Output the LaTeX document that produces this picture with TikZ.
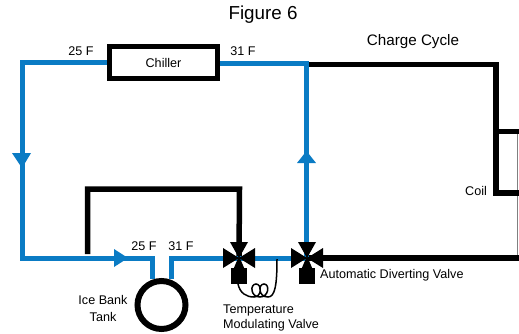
\documentclass[tikz,border=0pt]{standalone}
\usepackage{fontspec}
\setmainfont{Liberation Sans}
\usetikzlibrary{arrows.meta, positioning, shapes.geometric}

\tikzset{
  bluepipe/.style={line width=5pt, draw=pipeblue},
  blackpipe/.style={line width=5.5pt, draw=black},
  flowtip/.style={fill=pipeblue, draw=none},
  valvetip/.style={fill=black, draw=none},
  lbl/.style={font=\fontsize{12.6}{15}\selectfont, inner sep=0pt, align=center},
}
\definecolor{pipeblue}{HTML}{0A7BC4}

\begin{document}
\begin{tikzpicture}[x=1pt, y=-1pt]
  \useasboundingbox (0,0) rectangle (519,333);

  % Titles
  \node[font=\fontsize{18.8}{22}\selectfont, inner sep=0pt] (title) at (263,15) {Figure 6};
  \node[font=\fontsize{15.2}{18}\selectfont, inner sep=0pt] (cycle) at (413,42) {Charge Cycle};

  % Junctions and free ends
  \coordinate (valveA) at (239,258);
  \coordinate (valveB) at (306.5,258);
  \coordinate (tankL) at (152.5,279);
  \coordinate (tankR) at (171,279);

  % Black lines
  \draw[line width=0.8pt, gray] (517.5,131.5) -- (517.5,258);
  \draw[blackpipe] (306.5,64.5) -- (496,64.5) -- (496,193) -- (519,193);
  \draw[line width=5pt] (496,131.5) -- (519,131.5);
  \draw[blackpipe] (valveB) -- (519,258);
  \draw[blackpipe] (87.5,254) -- (87.5,189) -- (239.5,189) -- (valveA);

  % Blue lines
  \draw[bluepipe] (109,62.5) -- (22,62.5) -- (22,258) -- (152.5,258) -- (tankL);
  \draw[bluepipe] (tankR) -- (171,258) -- (valveA);
  \draw[bluepipe] (valveA) -- (valveB);
  \draw[bluepipe] (218,63.5) -- (306.5,63.5) -- (valveB);

  % Chiller
  \node[draw, line width=5.5pt, minimum width=108pt, minimum height=32pt, inner sep=0pt,
    font=\fontsize{12.6}{15}\selectfont] (chiller) at (163.5,62.5) {Chiller};

  % Tank
  \node[draw, circle, line width=6pt, minimum size=48pt, inner sep=0pt, fill=white] (tank) at (161.5,305) {};

  % Flow arrows
  \fill[flowtip] (12,153) -- (31,153) -- (22,168) -- cycle;
  \fill[flowtip] (297,163) -- (316,163) -- (306.5,151) -- cycle;
  \fill[flowtip] (114,249) -- (114,267) -- (128,258) -- cycle;

  % Valves
  \foreach \vx/\vn in {239/A, 307/B} {
    \fill[valvetip] (\vx-16,248) -- (\vx-16,268) -- (\vx+16,248) -- (\vx+16,268) -- cycle;
    \fill[valvetip] (\vx-9,242) -- (\vx+9,242) -- (\vx,258) -- cycle;
    \fill[valvetip] (\vx-8,268) rectangle (\vx+8,284);
    \fill[valvetip] (\vx-6,270) -- (\vx+6,270) -- (\vx,256) -- cycle;
  }

  % Sensing bulb
  \draw[line width=1.5pt] (238,284) .. controls (240,293) and (246,297) .. (254,297)
    .. controls (262,297) and (262,284) .. (256,284) .. controls (250,284) and (250,297) .. (260,297)
    .. controls (269,297) and (270,284) .. (264,284) .. controls (258,284) and (258,297) .. (268,297)
    .. controls (275,297) and (277,285) .. (277,259);

  % Labels
  \node[lbl] (tinA) at (81,51) {25 F};
  \node[lbl] (toutA) at (243,51) {31 F};
  \node[lbl] (tinB) at (144,246) {25 F};
  \node[lbl] (toutB) at (181,246) {31 F};
  \node[lbl] (coil) at (476,191) {Coil};
  \node[lbl, font=\fontsize{12.6}{17}\selectfont] (icebank) at (103,308.5) {Ice Bank\\Tank};
  \node[lbl, align=left, anchor=west] (tempvalve) at (223,317.5) {Temperature\\Modulating Valve};
  \node[lbl, anchor=west] (divvalve) at (320,275) {Automatic Diverting Valve};
\end{tikzpicture}
\end{document}
